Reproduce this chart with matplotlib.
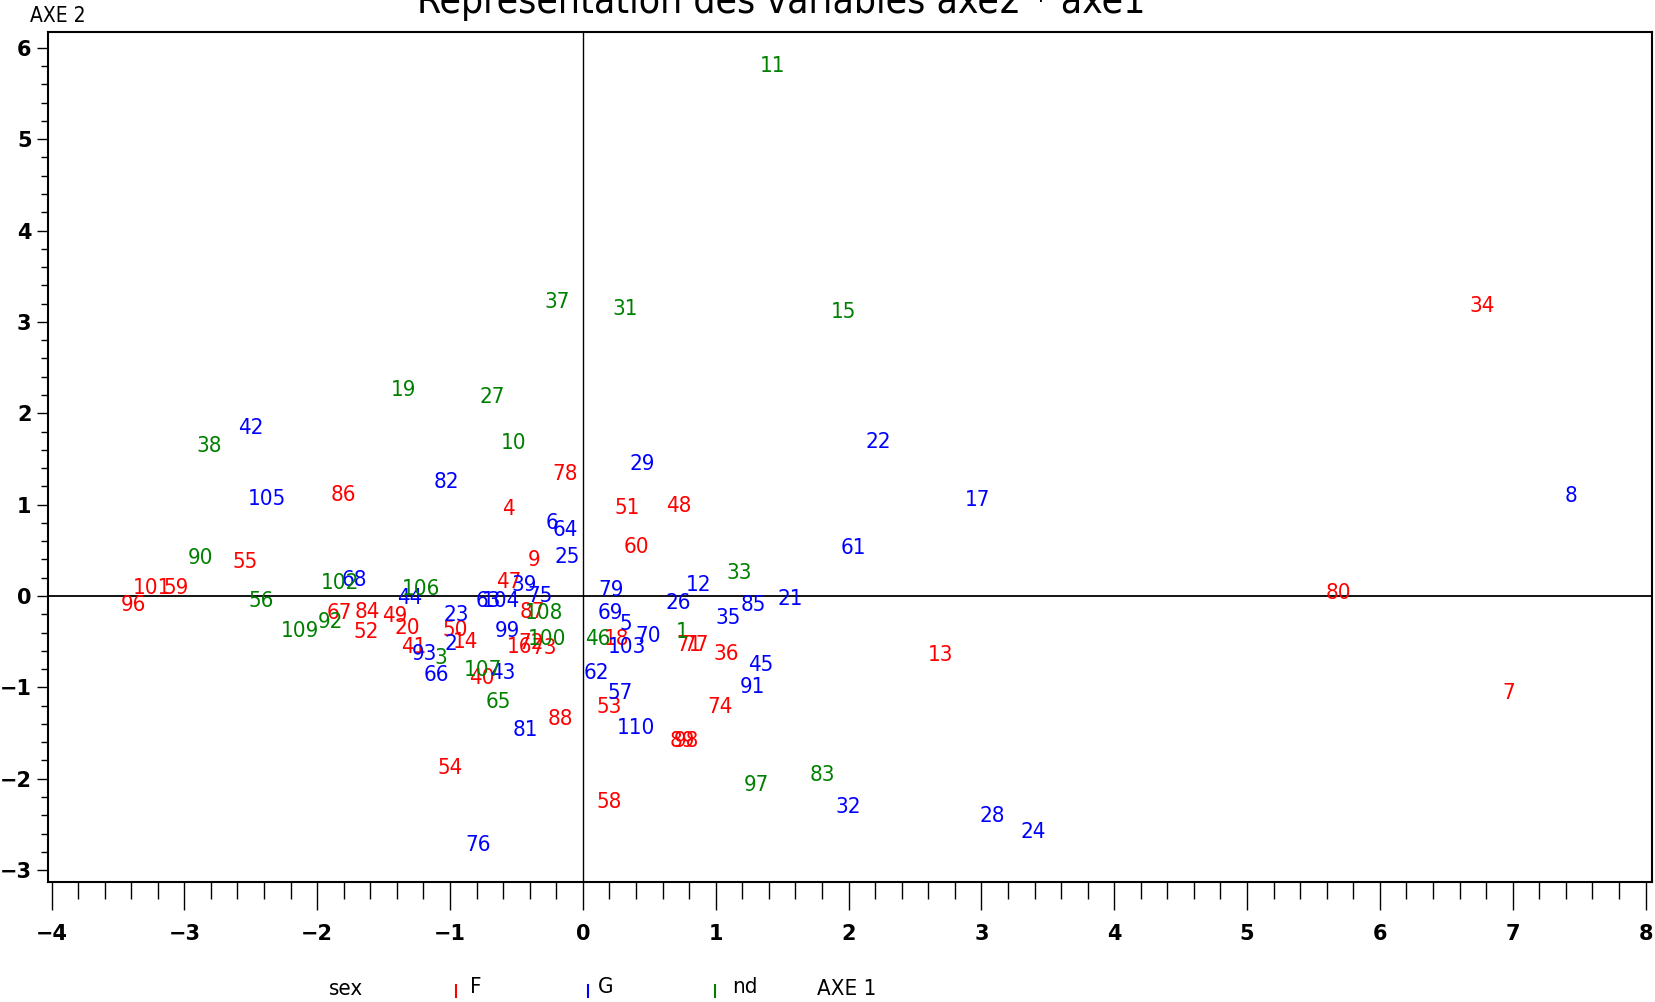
import matplotlib
matplotlib.use("Agg")
import matplotlib.pyplot as plt
from matplotlib.lines import Line2D
from matplotlib.ticker import MultipleLocator

# Observation ids, coordinates on the two axes and sex group
ids_f = ["34", "78", "86", "4", "51", "48", "60", "9", "55", "47", "101", "59",
         "96", "80", "67", "84", "49", "52", "20", "41", "50", "14", "87", "16",
         "72", "73", "40", "18", "71", "77", "36", "13", "7", "53", "74", "88",
         "89", "98", "54", "58"]
axe1_f = [6.77, -0.13, -1.80, -0.56, 0.33, 0.72, 0.40, -0.37, -2.54, -0.56, -3.24, -3.06,
          -3.38, 5.69, -1.83, -1.62, -1.42, -1.63, -1.32, -1.27, -0.96, -0.88, -0.38, -0.48,
          -0.39, -0.29, -0.76, 0.25, 0.80, 0.85, 1.08, 2.69, 6.97, 0.20, 1.03, -0.17,
          0.75, 0.78, -1.00, 0.20]
axe2_f = [3.17, 1.33, 1.11, 0.95, 0.96, 0.98, 0.54, 0.39, 0.37, 0.15, 0.09, 0.09,
          -0.10, 0.03, -0.19, -0.17, -0.22, -0.39, -0.35, -0.56, -0.37, -0.50, -0.17, -0.56,
          -0.51, -0.57, -0.90, -0.47, -0.54, -0.54, -0.63, -0.65, -1.06, -1.22, -1.22, -1.35,
          -1.59, -1.59, -1.88, -2.25]

ids_g = ["42", "22", "29", "82", "105", "17", "8", "6", "64", "61", "25", "68",
         "12", "79", "39", "75", "63", "104", "44", "21", "26", "85", "69", "5",
         "35", "23", "99", "70", "103", "2", "93", "66", "43", "62", "45", "91",
         "57", "110", "81", "32", "28", "24", "76"]
axe1_g = [-2.50, 2.22, 0.45, -1.03, -2.38, 2.97, 7.44, -0.23, -0.13, 2.04, -0.12, -1.72,
          0.87, 0.21, -0.44, -0.32, -0.71, -0.62, -1.30, 1.56, 0.72, 1.28, 0.21, 0.32,
          1.09, -0.95, -0.57, 0.49, 0.33, -0.99, -1.19, -1.10, -0.60, 0.10, 1.34, 1.28,
          0.28, 0.40, -0.43, 2.00, 3.08, 3.39, -0.79]
axe2_g = [1.84, 1.68, 1.45, 1.25, 1.06, 1.05, 1.09, 0.80, 0.72, 0.52, 0.43, 0.17,
          0.12, 0.07, 0.12, 0.00, -0.05, -0.05, -0.02, -0.03, -0.08, -0.10, -0.19, -0.31,
          -0.24, -0.21, -0.38, -0.44, -0.56, -0.53, -0.63, -0.86, -0.84, -0.84, -0.75, -1.00,
          -1.06, -1.44, -1.47, -2.31, -2.41, -2.58, -2.73]

ids_nd = ["11", "37", "31", "15", "19", "27", "10", "38", "90", "56", "102", "106",
          "109", "92", "3", "107", "65", "108", "100", "46", "1", "33", "97", "83"]
axe1_nd = [1.43, -0.19, 0.32, 1.96, -1.35, -0.68, -0.52, -2.81, -2.88, -2.42, -1.83, -1.22,
           -2.13, -1.90, -1.07, -0.75, -0.64, -0.29, -0.27, 0.11, 0.75, 1.18, 1.31, 1.80]
axe2_nd = [5.80, 3.22, 3.14, 3.11, 2.26, 2.18, 1.67, 1.64, 0.42, -0.06, 0.14, 0.08,
           -0.38, -0.28, -0.68, -0.81, -1.16, -0.19, -0.47, -0.47, -0.39, 0.25, -2.07, -1.96]

groups = [("F", ids_f, axe1_f, axe2_f, "#ff0000"),
          ("G", ids_g, axe1_g, axe2_g, "#0000ff"),
          ("nd", ids_nd, axe1_nd, axe2_nd, "#008000")]

# narrow lettering, close to the SAS device font
lab_kw = dict(family="DejaVu Sans", stretch="condensed")

fig = plt.figure(figsize=(16.56, 10.02), dpi=100)
ax = fig.add_axes([0.0287, 0.1198, 0.969, 0.848])

# Point labels, drawn at each observation
for name, ids, xs, ys, col in groups:
    for lab, x, y in zip(ids, xs, ys):
        ax.text(x, y, lab, color=col, ha="center", va="center",
                fontsize=16, **lab_kw)

# Reference lines through the origin
ax.axhline(0, color="black", linewidth=1.3)
ax.axvline(0, color="black", linewidth=1.0)

ax.set_xlim(-4.03, 8.05)
ax.set_ylim(-3.13, 6.17)
ax.xaxis.set_major_locator(MultipleLocator(1))
ax.xaxis.set_minor_locator(MultipleLocator(0.2))
ax.yaxis.set_major_locator(MultipleLocator(1))
ax.yaxis.set_minor_locator(MultipleLocator(0.2))
ax.tick_params(which="major", direction="out", length=20, width=1, color="black")
ax.tick_params(axis="y", which="major", length=8)
ax.tick_params(which="minor", direction="out", length=12, width=1)
ax.tick_params(axis="y", which="minor", length=5)
ax.tick_params(axis="x", pad=10)
for lbl in ax.get_xticklabels() + ax.get_yticklabels():
    lbl.set_fontweight("bold")
    lbl.set_fontsize(15)
for sp in ax.spines.values():
    sp.set_linewidth(1.5)

# Title is clipped at the top edge in the original
fig.text(0.472, 0.987, "Représentation des variables axe2 * axe1",
         ha="center", va="baseline", fontsize=28, **lab_kw)
fig.text(0.035, 0.984, "AXE 2", ha="center", va="center", fontsize=15, **lab_kw)

# Legend row at the bottom
ly = 0.013
fig.text(0.209, ly, "sex", ha="center", va="center", fontsize=16, **lab_kw)
for xm, xt, txt, col in [(0.2755, 0.287, "F", "#ff0000"),
                         (0.355, 0.366, "G", "#0000ff"),
                         (0.432, 0.450, "nd", "#008000")]:
    fig.add_artist(Line2D([xm, xm], [ly - 0.008, ly + 0.004], color=col,
                          linewidth=1.5, transform=fig.transFigure))
    fig.text(xt, ly + 0.002, txt, ha="center", va="center", fontsize=16, **lab_kw)
fig.text(0.5115, ly, "AXE 1", ha="center", va="center", fontsize=16, **lab_kw)

fig.savefig("out.png", dpi=100)
